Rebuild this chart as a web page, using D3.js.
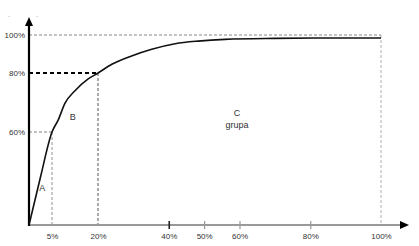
<!DOCTYPE html>
<html>
<head>
<meta charset="utf-8">
<script src="https://cdn.jsdelivr.net/npm/d3@7"></script>
<style>
  body { margin: 0; background: #fff; }
  text { font-family: "Liberation Sans", Arial, sans-serif; }
</style>
</head>
<body>
<script>
// Data
var xTicks = [5, 20, 40, 50, 60, 80, 100];
var yTicks = [60, 80, 100];
// cumulative share curve (x %, y %)
var curveX = [0, 2.5, 5, 7, 9.2, 12.5, 16.8, 20, 23.9, 29.5, 35.2, 41.8, 48.3, 55.9, 70, 85, 100];
var curveY = [0, 31, 60, 64, 69.7, 74, 78, 80, 84.6, 89, 92.5, 95.4, 96.8, 97.7, 98.2, 98.4, 98.4];
var groups = [
  {name: "A", x: 2.9, y: 22},
  {name: "B", x: 11.8, y: 64},
  {name: "C", x: 59.3, y: 65.5},
];

var w = 419;
var h = 246;

var svg = d3.select("body")
  .append("svg")
  .attr("width", w)
  .attr("height", h);

/*
----Scales----
*/
var x = d3.scaleLinear()
  .domain([0, 5, 20, 100])
  .range([29, 52, 98, 381]);

var y = d3.scaleLinear()
  .domain([0, 60, 80, 100])
  .range([225, 132, 73, 35]);

/*
----Guide lines----
*/
// 100% level
svg.append("line")
  .attr("x1", x(0)).attr("x2", x(100))
  .attr("y1", y(100)).attr("y2", y(100))
  .attr("stroke", "#888").attr("stroke-width", 1.2)
  .attr("stroke-dasharray", "3,2");
svg.append("line")
  .attr("x1", x(100)).attr("x2", x(100))
  .attr("y1", y(100)).attr("y2", y(0))
  .attr("stroke", "#999").attr("stroke-width", 0.8)
  .attr("stroke-dasharray", "3,2");

// 80% level
svg.append("line")
  .attr("x1", x(0)).attr("x2", x(20))
  .attr("y1", y(80)).attr("y2", y(80))
  .attr("stroke", "#000").attr("stroke-width", 2)
  .attr("stroke-dasharray", "4,3");
svg.append("line")
  .attr("x1", x(20)).attr("x2", x(20))
  .attr("y1", y(80)).attr("y2", y(0))
  .attr("stroke", "#444").attr("stroke-width", 0.9)
  .attr("stroke-dasharray", "3,2");

// 60% level
svg.append("line")
  .attr("x1", x(0)).attr("x2", x(5))
  .attr("y1", y(60)).attr("y2", y(60))
  .attr("stroke", "#666").attr("stroke-width", 0.8)
  .attr("stroke-dasharray", "3,2");
svg.append("line")
  .attr("x1", x(5)).attr("x2", x(5))
  .attr("y1", y(60)).attr("y2", y(0))
  .attr("stroke", "#777").attr("stroke-width", 0.8)
  .attr("stroke-dasharray", "3,2");

/*
----Axes----
*/
var xAxis = svg.append("g")
  .attr("transform", "translate(0," + y(0) + ")")
  .call(d3.axisBottom(x).tickValues(xTicks)
    .tickSize(0).tickPadding(8)
    .tickFormat(function(d) { return d + "%"; }));

xAxis.select(".domain")
  .attr("d", "M" + x(0) + ",0H402")
  .attr("stroke", "#999").attr("stroke-width", 2.2);

xAxis.selectAll(".tick text")
  .attr("font-size", 8).attr("fill", "#333");

xAxis.selectAll(".tick")
  .filter(function(d) { return d >= 40 && d < 100; })
  .append("line")
  .attr("y1", -4).attr("y2", 4)
  .attr("stroke", function(d) { return d == 40 ? "#222" : "#999"; })
  .attr("stroke-width", function(d) { return d == 40 ? 1.6 : 1.2; });

svg.append("path")
  .attr("d", "M400,221L409,225L400,229Z")
  .attr("fill", "#000");

var yAxis = svg.append("g")
  .attr("transform", "translate(" + x(0) + ",0)")
  .call(d3.axisLeft(y).tickValues(yTicks)
    .tickSize(0).tickPadding(4)
    .tickFormat(function(d) { return d + "%"; }));

yAxis.select(".domain")
  .attr("d", "M0," + (y(0) + 1) + "V24")
  .attr("stroke", "#000").attr("stroke-width", 2.2);

yAxis.selectAll(".tick text")
  .attr("font-size", 8).attr("fill", "#333");

svg.append("path")
  .attr("d", "M25,26L29,17L33,26Z")
  .attr("fill", "#000");

// small marks above the arrow
svg.append("text").attr("x", 8).attr("y", 18)
  .attr("font-size", 6).attr("fill", "#999").text("-");
svg.append("text").attr("x", 36).attr("y", 18)
  .attr("font-size", 6).attr("fill", "#999").text("-");

/*
----Curve----
*/
var pts = d3.zip(curveX, curveY);

var line = d3.line()
  .x(function(d) { return x(d[0]); })
  .y(function(d) { return y(d[1]); })
  .curve(d3.curveMonotoneX);

svg.append("path")
  .datum(pts)
  .attr("d", line)
  .attr("fill", "none")
  .attr("stroke", "#111")
  .attr("stroke-width", 1.6);

/*
----Group labels----
*/
svg.selectAll(".grp")
  .data(groups)
  .enter()
  .append("text")
  .attr("class", "grp")
  .attr("x", function(d) { return x(d.x); })
  .attr("y", function(d) { return y(d.y); })
  .attr("text-anchor", "middle")
  .attr("font-size", 9)
  .attr("fill", "#333")
  .text(function(d) { return d.name; });

svg.append("text")
  .attr("x", x(59.3)).attr("y", y(65.5) + 12)
  .attr("text-anchor", "middle")
  .attr("font-size", 9)
  .attr("fill", "#333")
  .text("grupa");
</script>
</body>
</html>
